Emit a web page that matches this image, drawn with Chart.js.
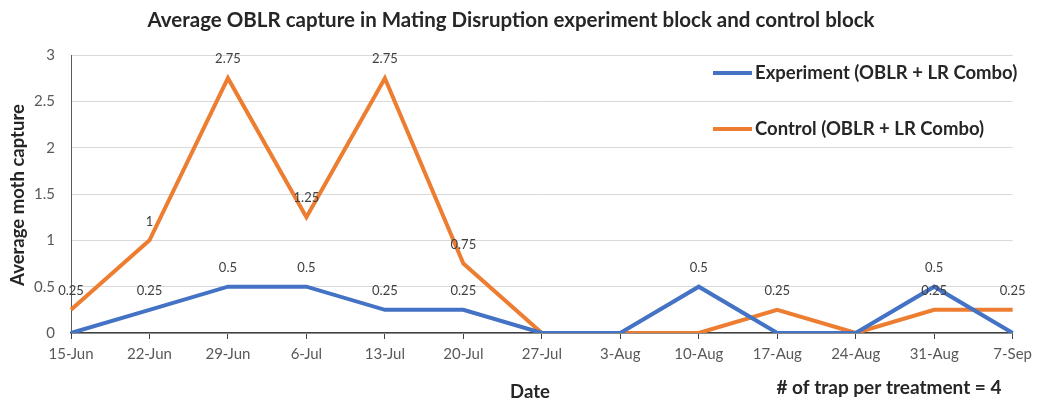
<!DOCTYPE html>
<html>
<head>
<meta charset="utf-8">
<script src="https://cdn.jsdelivr.net/npm/chart.js@4.4.1/dist/chart.umd.min.js"></script>
<style>
  html, body { margin: 0; padding: 0; background: #fff; }
  #wrap { width: 1038px; height: 402px; }
</style>
</head>
<body>
<div id="wrap"><canvas id="chart" width="1038" height="402"></canvas></div>
<script>
/* ================= DATA ================= */

const dates = ["15-Jun", "22-Jun", "29-Jun", "6-Jul", "13-Jul", "20-Jul", "27-Jul",
  "3-Aug", "10-Aug", "17-Aug", "24-Aug", "31-Aug", "7-Sep"];
const experiment = [0, 0.25, 0.5, 0.5, 0.25, 0.25, 0, 0, 0.5, 0, 0, 0.5, 0];
const control = [0.25, 1, 2.75, 1.25, 2.75, 0.75, 0, 0, 0, 0.25, 0, 0.25, 0.25];
const seriesNames = ["Experiment (OBLR + LR Combo)", "Control (OBLR + LR Combo)"];
const yTicks = [0, 0.5, 1, 1.5, 2, 2.5, 3];

const FONT = "Lato, 'Open Sans', sans-serif";

/* ================= EXTRA TEXT + LABELS ================= */

const decorPlugin = {
  id: "decor",
  afterDatasetsDraw(chart) {
    const ctx = chart.ctx;
    ctx.save();

    // value labels (zeros are left out, like the original)
    ctx.font = "13px " + FONT;
    ctx.fillStyle = "#404040";
    ctx.textAlign = "center";
    ctx.textBaseline = "middle";
    chart.data.datasets.forEach((ds, i) => {
      const meta = chart.getDatasetMeta(i);
      meta.data.forEach((pt, j) => {
        if (ds.data[j] === 0) return;
        ctx.fillText(String(ds.data[j]), pt.x, pt.y - 19);
      });
    });

    // legend inside plot
    const legY = [73, 129];
    chart.data.datasets.forEach((ds, i) => {
      ctx.strokeStyle = ds.borderColor;
      ctx.lineWidth = 4;
      ctx.beginPath();
      ctx.moveTo(713, legY[i]);
      ctx.lineTo(752, legY[i]);
      ctx.stroke();
      ctx.font = "bold 18.5px " + FONT;
      ctx.fillStyle = "#262626";
      ctx.textAlign = "left";
      ctx.fillText(ds.label, 755, legY[i]);
    });

    // title
    ctx.font = "bold 20.5px " + FONT;
    ctx.textAlign = "center";
    ctx.fillStyle = "#262626";
    ctx.fillText("Average OBLR capture in Mating Disruption experiment block and control block", 511, 20);

    // y title
    ctx.save();
    ctx.translate(18, 195);
    ctx.rotate(-Math.PI / 2);
    ctx.font = "bold 18.5px " + FONT;
    ctx.fillText("Average moth capture", 0, 0);
    ctx.restore();

    // x title + note
    ctx.font = "bold 18.5px " + FONT;
    ctx.fillText("Date", 530, 392);
    ctx.font = "bold 19px " + FONT;
    ctx.fillText("# of trap per treatment = 4", 889, 388);

    ctx.restore();
  }
};

/* ================= CHART ================= */

new Chart(document.getElementById("chart").getContext("2d"), {
  type: "line",
  data: {
    labels: dates,
    datasets: [
      {
        label: seriesNames[0],
        data: experiment,
        borderColor: "#4472C4",
        borderWidth: 4,
        pointRadius: 0,
        tension: 0
      },
      {
        label: seriesNames[1],
        data: control,
        borderColor: "#ED7D31",
        borderWidth: 4,
        pointRadius: 0,
        tension: 0
      }
    ]
  },
  options: {
    responsive: false,
    animation: false,
    layout: { padding: { left: 21, right: 20, top: 55, bottom: 0 } },
    plugins: {
      legend: { display: false },
      title: { display: false },
      tooltip: { enabled: false }
    },
    scales: {
      x: {
        offset: false,
        afterFit(s) { s.height = 69; },
        grid: { drawOnChartArea: false, drawTicks: true, tickLength: 6, color: "#404040" },
        border: { color: "#404040", width: 1.5 },
        ticks: {
          font: { family: FONT, size: 15 },
          color: "#595959",
          padding: 6,
          maxRotation: 0,
          autoSkip: false
        }
      },
      y: {
        min: 0,
        max: 3,
        afterFit(s) { s.width = 50; },
        afterBuildTicks(s) { s.ticks = yTicks.map(v => ({ value: v })); },
        grid: { color: "#d9d9d9", tickLength: 0, drawTicks: false },
        border: { color: "#595959" },
        ticks: {
          font: { family: FONT, size: 15 },
          color: "#595959",
          padding: 16,
          callback: v => String(v)
        }
      }
    }
  },
  plugins: [decorPlugin]
});
</script>
</body>
</html>
